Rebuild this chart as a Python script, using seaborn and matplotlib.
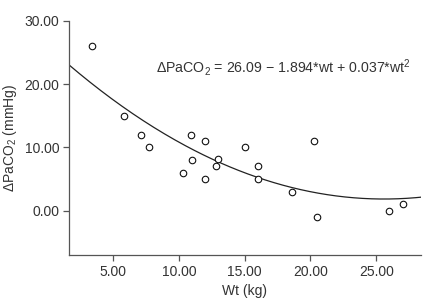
import numpy as np
import pandas as pd
import seaborn as sns
import matplotlib.pyplot as plt

# data
wt = [3.4, 5.8, 7.1, 7.7, 10.3, 10.9, 11.0, 12.0, 12.0, 12.8, 13.0, 15.0, 16.0, 16.0, 18.6, 20.3, 20.5, 26.0, 27.0]
dpaco2 = [26.0, 15.0, 12.0, 10.0, 6.0, 12.0, 8.0, 11.0, 5.0, 7.0, 8.2, 10.0, 7.0, 5.0, 3.0, 11.0, -1.0, 0.0, 1.0]
coef = [26.09, -1.894, 0.037]  # fitted quadratic
xticks = [5, 10, 15, 20, 25]
yticks = [0, 10, 20, 30]

df = pd.DataFrame({"wt": wt, "dpaco2": dpaco2})

sns.set_style("ticks")
plt.rcParams['font.family'] = ['Liberation Sans', 'DejaVu Sans']
plt.rcParams['mathtext.default'] = 'regular'
txt = '#333333'
axc = '#555555'

fig = plt.figure(figsize=(4.39, 3.08), dpi=100)
ax = fig.add_axes([0.157, 0.172, 0.802, 0.76])

xs = np.linspace(1.65, 28.4, 200)
fit = pd.DataFrame({"x": xs, "y": coef[0] + coef[1] * xs + coef[2] * xs ** 2})
sns.lineplot(data=fit, x="x", y="y", ax=ax, color='#222222', linewidth=0.9)
sns.scatterplot(data=df, x="wt", y="dpaco2", ax=ax, marker='o', s=22,
                facecolor='white', edgecolor='#111111', linewidth=0.8, zorder=3)

ax.set_xlim(1.65, 28.4)
ax.set_ylim(-7, 30)
ax.set_xticks(xticks)
ax.set_yticks(yticks)
ax.set_xticklabels([f"{v:.2f}" for v in xticks], fontsize=10, color=txt)
ax.set_yticklabels([f"{v:.2f}" for v in yticks], fontsize=10, color=txt)
ax.tick_params(axis='both', length=4, width=0.9, color=axc, pad=3)
for s in ['top', 'right']:
    ax.spines[s].set_visible(False)
for s in ['left', 'bottom']:
    ax.spines[s].set_color(axc)
    ax.spines[s].set_linewidth(0.9)

ax.set_xlabel("Wt (kg)", fontsize=10, color=txt, labelpad=4)
ax.set_ylabel("ΔPaCO$_2$ (mmHg)", fontsize=10, color=txt, labelpad=4)

ax.text(0.247, 0.80, "ΔPaCO$_2$ = 26.09 − 1.894*wt + 0.037*wt$^2$",
        transform=ax.transAxes, fontsize=10.2, color=txt, va='center', ha='left')

fig.savefig("out.png", dpi=100)
